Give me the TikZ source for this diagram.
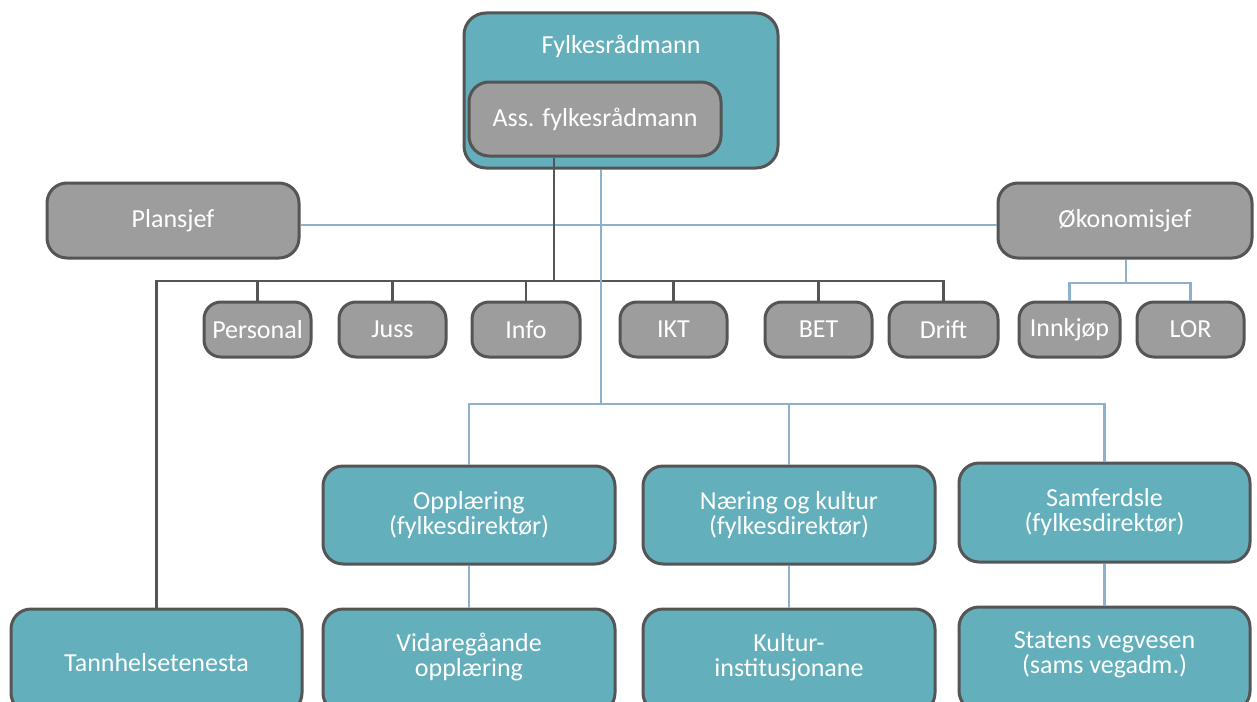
\documentclass[tikz,border=0pt]{standalone}
\usepackage{fontspec}
\setmainfont{Carlito}
\definecolor{teal}{HTML}{63AFBB}
\definecolor{grayfill}{HTML}{9D9D9D}
\definecolor{bord}{HTML}{555555}
\definecolor{blueline}{HTML}{8FB0CB}
\tikzset{
  box/.style={draw=bord, line width=3pt, rounded corners=20pt, text=white, align=center,
    inner sep=0pt, font=\fontsize{26}{25}\selectfont},
  tealbox/.style={box, fill=teal},
  graybox/.style={box, fill=grayfill},
  smallbox/.style={graybox, rounded corners=17pt, minimum height=55pt},
  dk/.style={draw=bord, line width=2.5pt},
  bl/.style={draw=blueline, line width=2.5pt},
  lbl/.style={text=white, font=\fontsize{26}{25}\selectfont, inner sep=0pt}
}
\begin{document}
\begin{tikzpicture}[x=1pt,y=-1pt]
\useasboundingbox (0,0) rectangle (1257,701);
\clip (0,0) rectangle (1257,701);
% top
\node[tealbox, minimum width=314pt, minimum height=155pt, rounded corners=22pt] (fylk) at (621,90.5) {};
\node[lbl] (fylkt) at (621,46) {Fylkesrådmann};
\node[graybox, minimum width=252pt, minimum height=74pt] (ass) at (595,119) {Ass. fylkesrådmann};
% second row
\node[graybox, minimum width=252pt, minimum height=75pt] (plan) at (173,220.5) {Plansjef};
\node[graybox, minimum width=254pt, minimum height=75pt] (oko) at (1125,220.5) {Økonomisjef};
% small boxes
\node[smallbox, minimum width=107pt] (pers) at (257.5,329.5) {Personal};
\node[smallbox, minimum width=107pt] (juss) at (392.5,329.5) {Juss};
\node[smallbox, minimum width=108pt] (info) at (526,329.5) {Info};
\node[smallbox, minimum width=107pt] (ikt) at (673.5,329.5) {IKT};
\node[smallbox, minimum width=107pt] (bet) at (818.5,329.5) {BET};
\node[smallbox, minimum width=109pt] (drift) at (943.5,329.5) {Drift};
\node[smallbox, minimum width=101pt] (innk) at (1069.5,329.5) {Innkjøp};
\node[smallbox, minimum width=107pt] (lor) at (1190.5,329.5) {LOR};
% directors
\node[tealbox, minimum width=292pt, minimum height=98pt] (opp) at (469,515) {Opplæring\\(fylkesdirektør)};
\node[tealbox, minimum width=292pt, minimum height=98pt] (nar) at (789,515) {Næring og kultur\\(fylkesdirektør)};
\node[tealbox, minimum width=291pt, minimum height=99pt] (sam) at (1104.5,512.5) {Samferdsle\\(fylkesdirektør)};
% bottom
\node[tealbox, minimum width=291pt, minimum height=104pt] (tann) at (156.5,661) {};
\node[lbl] (tannt) at (156.5,663) {Tannhelsetenesta};
\node[tealbox, minimum width=292pt, minimum height=104pt] (vid) at (469,661) {};
\node[lbl, align=center] (vidt) at (469,657) {Vidaregåande\\opplæring};
\node[tealbox, minimum width=292pt, minimum height=104pt] (kul) at (789,661) {};
\node[lbl, align=center] (kult) at (789,657) {Kultur-\\institusjonane};
\node[tealbox, minimum width=291pt, minimum height=104pt] (sta) at (1104.5,659) {};
\node[lbl, align=center] (stat) at (1104.5,655) {Statens vegvesen\\(sams vegadm.)};
% coordinates
\coordinate (yl) at (0,225);
\coordinate (j1) at (554,281);
\coordinate (b1) at (601,404);
\coordinate (b2) at (1126,283);
% blue horizontal
\draw[bl] (plan.east |- yl) -- (oko.west |- yl);
% dark lines
\draw[dk] (ass.south -| j1) -- (j1);
\draw[dk] (tann.north) |- (j1) -| (drift.north);
\foreach \n in {pers,juss,info,ikt,bet}{
  \draw[dk] (\n.north) -- (\n.north |- j1);
}
% blue lines
\draw[bl] (fylk.south -| b1) -- (b1);
\draw[bl] (opp.north) |- (b1) -| (sam.north);
\draw[bl] (nar.north) -- (nar.north |- b1);
\draw[bl] (opp.south) -- (vid.north);
\draw[bl] (nar.south) -- (kul.north);
\draw[bl] (sam.south) -- (sta.north);
\draw[bl] (oko.south -| b2) -- (b2);
\draw[bl] (innk.north) |- (b2) -| (lor.north);
\end{tikzpicture}
\end{document}
